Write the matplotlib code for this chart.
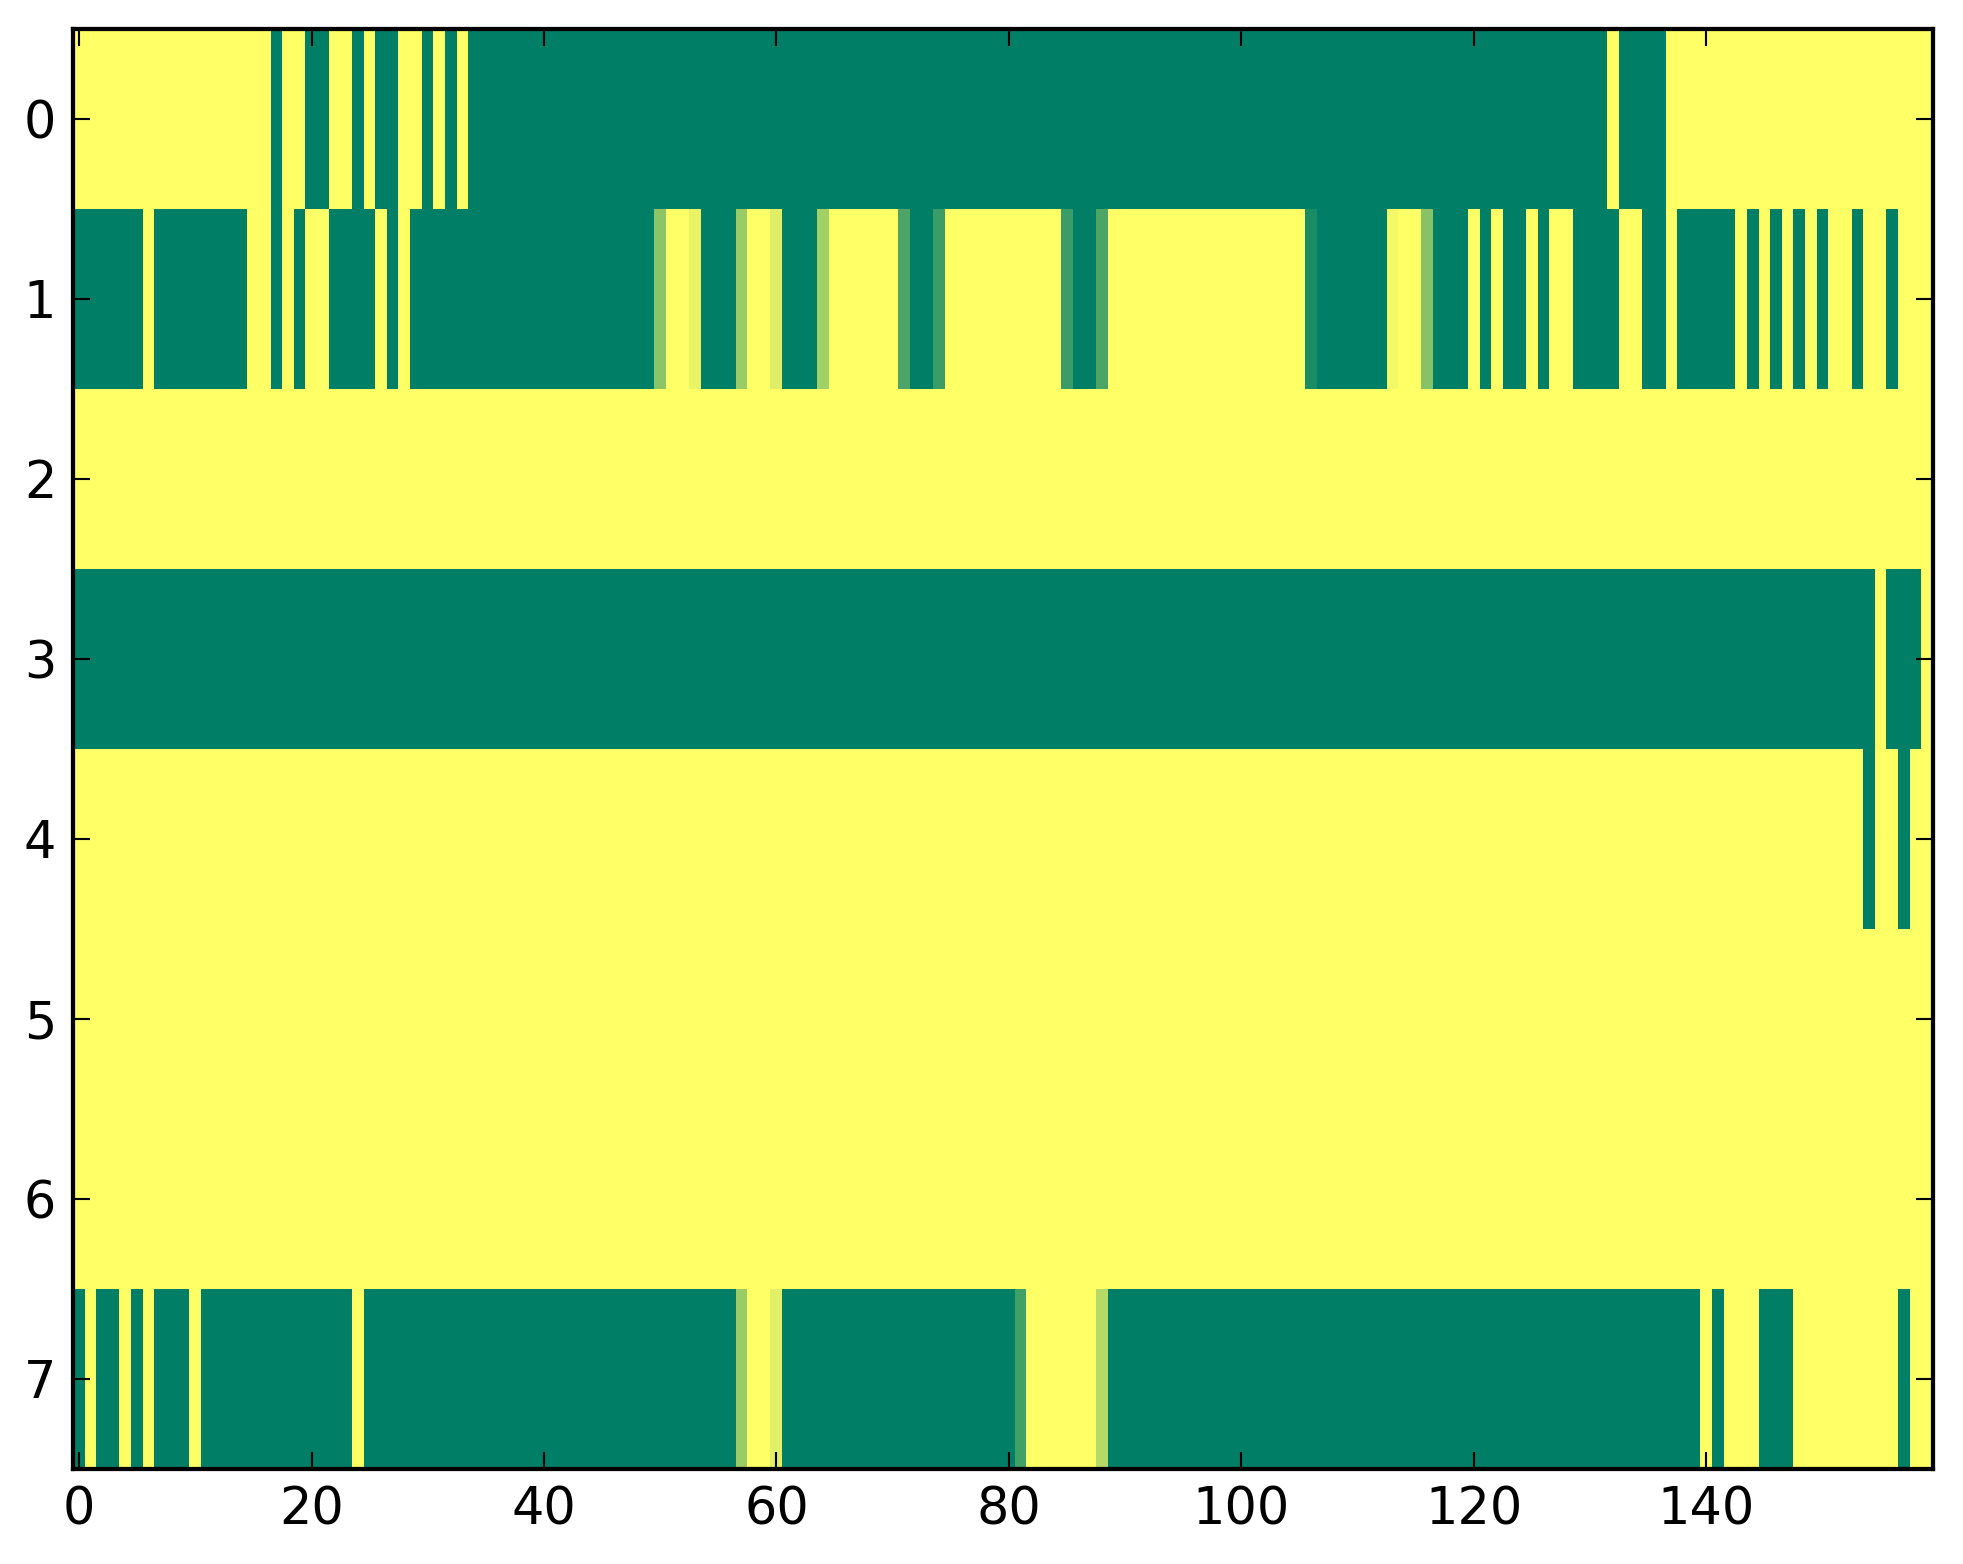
import matplotlib
matplotlib.use("Agg")
import matplotlib.pyplot as plt
import numpy as np

row0 = [1,1,1,1,1,1,1,1,1,1,1,1,1,1,1,1,1,0,1,1,
        0,0,1,1,0,1,0,0,1,1,0,1,0,1,0,0,0,0,0,0,
        0,0,0,0,0,0,0,0,0,0,0,0,0,0,0,0,0,0,0,0,
        0,0,0,0,0,0,0,0,0,0,0,0,0,0,0,0,0,0,0,0,
        0,0,0,0,0,0,0,0,0,0,0,0,0,0,0,0,0,0,0,0,
        0,0,0,0,0,0,0,0,0,0,0,0,0,0,0,0,0,0,0,0,
        0,0,0,0,0,0,0,0,0,0,0,0,1,0,0,0,0,1,1,1,
        1,1,1,1,1,1,1,1,1,1,1,1,1,1,1,1,1,1,1,1]

row1 = [0,0,0,0,0,0,1,0,0,0,0,0,0,0,0,1,1,0,1,0,
        1,1,0,0,0,0,1,0,1,0,0,0,0,0,0,0,0,0,0,0,
        0,0,0,0,0,0,0,0,0,0,.55,1,1,.91,0,0,0,.6,1,1,
        .87,0,0,0,.63,1,1,1,1,1,1,.3,0,0,.23,1,1,1,1,1,
        1,1,1,1,1,.23,0,0,.3,1,1,1,1,1,1,1,1,1,1,1,
        1,1,1,1,1,1,.1,0,0,0,0,0,0,.95,1,1,.53,0,0,0,
        1,0,1,0,0,1,0,1,1,0,0,0,0,1,1,0,0,1,0,0,
        0,0,0,1,0,1,0,1,0,1,0,1,1,0,1,1,0,1,1,1]

row2 = [1,1,1,1,1,1,1,1,1,1,1,1,1,1,1,1,1,1,1,1,
        1,1,1,1,1,1,1,1,1,1,1,1,1,1,1,1,1,1,1,1,
        1,1,1,1,1,1,1,1,1,1,1,1,1,1,1,1,1,1,1,1,
        1,1,1,1,1,1,1,1,1,1,1,1,1,1,1,1,1,1,1,1,
        1,1,1,1,1,1,1,1,1,1,1,1,1,1,1,1,1,1,1,1,
        1,1,1,1,1,1,1,1,1,1,1,1,1,1,1,1,1,1,1,1,
        1,1,1,1,1,1,1,1,1,1,1,1,1,1,1,1,1,1,1,1,
        1,1,1,1,1,1,1,1,1,1,1,1,1,1,1,1,1,1,1,1]

row3 = [0,0,0,0,0,0,0,0,0,0,0,0,0,0,0,0,0,0,0,0,
        0,0,0,0,0,0,0,0,0,0,0,0,0,0,0,0,0,0,0,0,
        0,0,0,0,0,0,0,0,0,0,0,0,0,0,0,0,0,0,0,0,
        0,0,0,0,0,0,0,0,0,0,0,0,0,0,0,0,0,0,0,0,
        0,0,0,0,0,0,0,0,0,0,0,0,0,0,0,0,0,0,0,0,
        0,0,0,0,0,0,0,0,0,0,0,0,0,0,0,0,0,0,0,0,
        0,0,0,0,0,0,0,0,0,0,0,0,0,0,0,0,0,0,0,0,
        0,0,0,0,0,0,0,0,0,0,0,0,0,0,0,1,0,0,0,1]

row4 = [1,1,1,1,1,1,1,1,1,1,1,1,1,1,1,1,1,1,1,1,
        1,1,1,1,1,1,1,1,1,1,1,1,1,1,1,1,1,1,1,1,
        1,1,1,1,1,1,1,1,1,1,1,1,1,1,1,1,1,1,1,1,
        1,1,1,1,1,1,1,1,1,1,1,1,1,1,1,1,1,1,1,1,
        1,1,1,1,1,1,1,1,1,1,1,1,1,1,1,1,1,1,1,1,
        1,1,1,1,1,1,1,1,1,1,1,1,1,1,1,1,1,1,1,1,
        1,1,1,1,1,1,1,1,1,1,1,1,1,1,1,1,1,1,1,1,
        1,1,1,1,1,1,1,1,1,1,1,1,1,1,0,1,1,0,1,1]

row5 = list(row2)
row6 = list(row2)

row7 = [0,1,0,0,1,0,1,0,0,0,1,0,0,0,0,0,0,0,0,0,
        0,0,0,0,1,0,0,0,0,0,0,0,0,0,0,0,0,0,0,0,
        0,0,0,0,0,0,0,0,0,0,0,0,0,0,0,0,0,.6,1,1,
        .88,0,0,0,0,0,0,0,0,0,0,0,0,0,0,0,0,0,0,0,
        0,.26,1,1,1,1,1,1,.71,0,0,0,0,0,0,0,0,0,0,0,
        0,0,0,0,0,0,0,0,0,0,0,0,0,0,0,0,0,0,0,0,
        0,0,0,0,0,0,0,0,0,0,0,0,0,0,0,0,0,0,0,0,
        1,0,1,1,1,0,0,0,1,1,1,1,1,1,1,1,1,0,1,1]

x_ticks = [0, 20, 40, 60, 80, 100, 120, 140]
y_ticks = [0, 1, 2, 3, 4, 5, 6, 7]

data = np.array([row0, row1, row2, row3, row4, row5, row6, row7], dtype=float)

plt.rcParams.update({
    "font.family": "DejaVu Sans",
    "font.size": 12,
    "xtick.direction": "in",
    "ytick.direction": "in",
    "xtick.top": True,
    "ytick.right": True,
    "xtick.major.size": 4,
    "ytick.major.size": 4,
    "xtick.major.width": 0.5,
    "ytick.major.width": 0.5,
    "xtick.major.pad": 4,
    "ytick.major.pad": 4,
    "axes.linewidth": 1.0,
})

dpi = 305
fig = plt.figure(figsize=(1963 / dpi, 1564 / dpi), dpi=dpi, facecolor="white")
ax = fig.add_axes([73.3 / 1963, 1 - 1469 / 1564, (1933 - 73.3) / 1963, (1469 - 29) / 1564])
ax.imshow(data, cmap="summer", vmin=0, vmax=1, interpolation="nearest", aspect="auto")
ax.set_xticks(x_ticks)
ax.set_yticks(y_ticks)
ax.tick_params(labelsize=12)
fig.savefig("out.png", dpi=dpi, facecolor="white")
